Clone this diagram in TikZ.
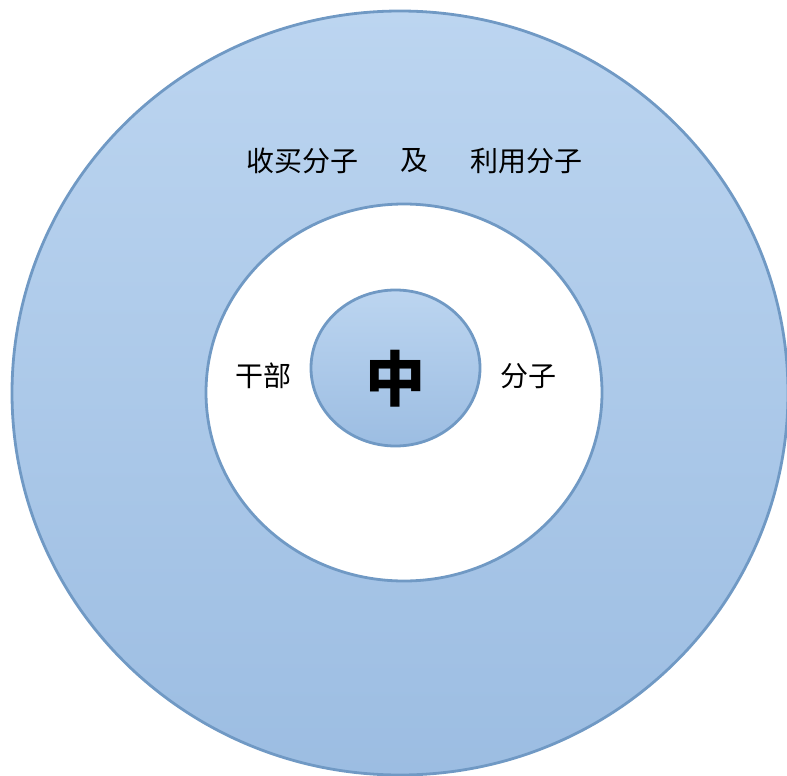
\documentclass[tikz,border=0pt]{standalone}
\usepackage{fontspec}
\newfontfamily\cjk{Noto Sans CJK SC}
\usetikzlibrary{shapes.geometric}
\definecolor{edgeblue}{HTML}{7099C4}
\definecolor{topblue}{HTML}{BCD5F0}
\definecolor{botblue}{HTML}{9CBDE2}
\tikzset{
  ring/.style={ellipse, draw=edgeblue, line width=2.8pt, inner sep=0pt},
  bluefill/.style={top color=topblue, bottom color=botblue},
  label/.style={font=\cjk\fontsize{28}{30}\selectfont, inner sep=0pt}
}
\begin{document}
\begin{tikzpicture}[x=1pt,y=-1pt]
\useasboundingbox (0,0) rectangle (787,776);
\node[ring, bluefill, minimum width=776pt, minimum height=764pt] (outer) at (400,393) {};
\node[ring, fill=white, minimum width=396pt, minimum height=377pt] (inner) at (404,392.5) {};
\node[ring, bluefill, minimum width=169pt, minimum height=156pt] (core) at (395.5,368) {};
\node[font=\cjk\fontsize{60}{62}\selectfont\bfseries, inner sep=0pt] (zhong) at (395,379) {中};
\node[label] (t1) at (302.5,161) {收买分子};
\node[label] (t2) at (414,161) {及};
\node[label] (t3) at (526,161) {利用分子};
\node[label] (t4) at (263,376) {干部};
\node[label] (t5) at (528,376) {分子};
\end{tikzpicture}
\end{document}
